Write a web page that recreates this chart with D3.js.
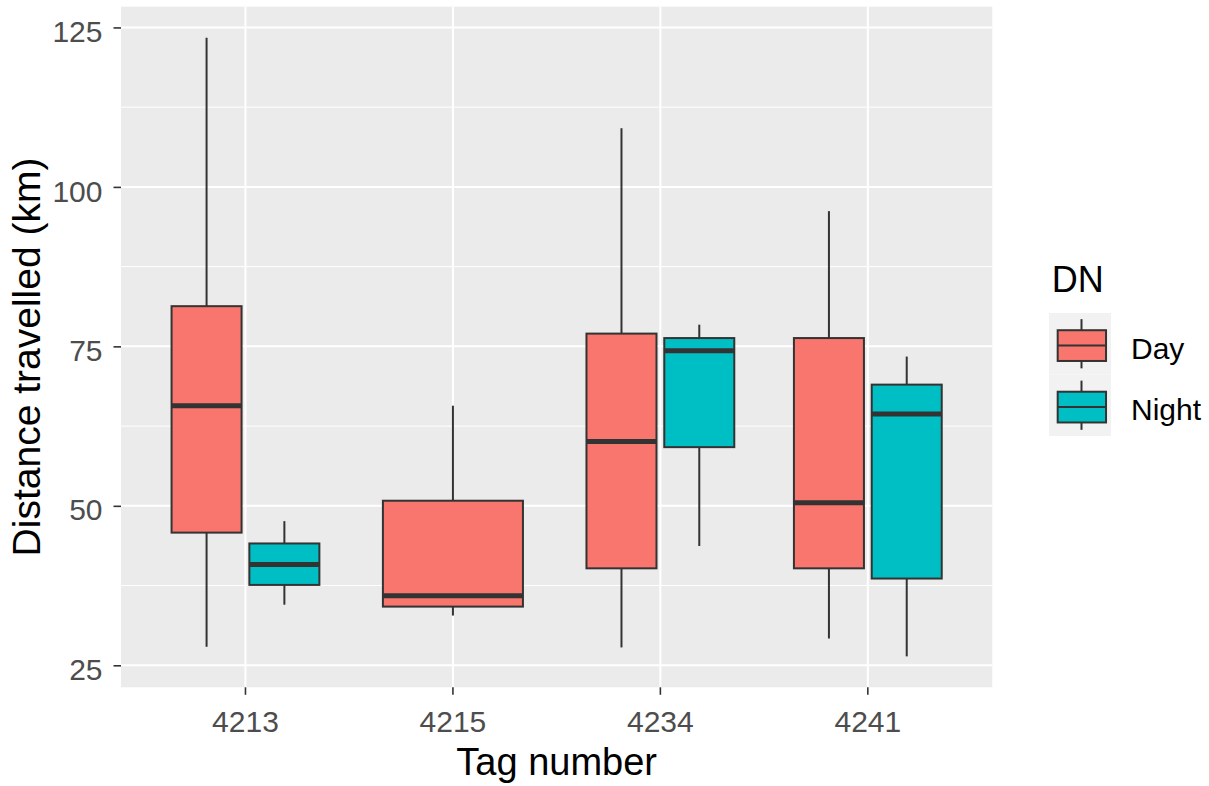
<!DOCTYPE html>
<html>
<head>
<meta charset="utf-8">
<script src="https://cdn.jsdelivr.net/npm/d3@7"></script>
<style>
  html, body { margin: 0; padding: 0; background: #fff; }
  svg { display: block; font-family: "Liberation Sans", Arial, sans-serif; }
</style>
</head>
<body>
<div id="chart"></div>
<script>
(function () {
  "use strict";

  // Data: [lower whisker, Q1, median, Q3, upper whisker]
  const tags = ["4213", "4215", "4234", "4241"];
  const groups = ["Day", "Night"];
  const dayStats = [
    [27.9, 45.8, 65.7, 81.3, 123.4],
    [32.8, 34.2, 35.9, 50.8, 65.7],
    [27.8, 40.2, 60.1, 77.0, 109.2],
    [29.2, 40.2, 50.5, 76.3, 96.2]
  ];
  const nightStats = [
    [34.5, 37.6, 40.8, 44.1, 47.6],
    null,
    [43.7, 59.2, 74.3, 76.3, 78.4],
    [26.4, 38.6, 64.4, 69.0, 73.4]
  ];
  const yTicks = [25, 50, 75, 100, 125];
  const yMinor = [37.5, 62.5, 87.5, 112.5];
  const fills = { Day: "#F8766D", Night: "#00BFC4" };

  const W = 1209, H = 786;
  const panel = { left: 121, right: 992.3, top: 6.7, bottom: 687.3 };

  const svg = d3.select("#chart").append("svg")
    .attr("width", W)
    .attr("height", H);

  // build rows
  const rows = [];
  tags.forEach((t, i) => {
    if (dayStats[i]) rows.push({ tag: t, group: "Day", s: dayStats[i] });
    if (nightStats[i]) rows.push({ tag: t, group: "Night", s: nightStats[i] });
  });

  const allVals = rows.flatMap(r => r.s);
  const lo = d3.min(allVals), hi = d3.max(allVals);
  const pad = (hi - lo) * 0.05;

  const y = d3.scaleLinear()
    .domain([lo - pad, hi + pad])
    .range([panel.bottom, panel.top]);

  const x = d3.scaleBand()
    .domain(tags)
    .range([panel.left, panel.right])
    .paddingInner(0)
    .paddingOuter(0.1);

  // panel background
  svg.append("rect")
    .attr("x", panel.left)
    .attr("y", panel.top)
    .attr("width", panel.right - panel.left)
    .attr("height", panel.bottom - panel.top)
    .attr("fill", "#EBEBEB");

  const grid = svg.append("g").attr("class", "grid");
  grid.selectAll("line.minor")
    .data(yMinor)
    .enter().append("line")
    .attr("class", "minor")
    .attr("x1", panel.left).attr("x2", panel.right)
    .attr("y1", d => y(d)).attr("y2", d => y(d))
    .attr("stroke", "#fff").attr("stroke-width", 1);
  grid.selectAll("line.major")
    .data(yTicks)
    .enter().append("line")
    .attr("class", "major")
    .attr("x1", panel.left).attr("x2", panel.right)
    .attr("y1", d => y(d)).attr("y2", d => y(d))
    .attr("stroke", "#fff").attr("stroke-width", 2);
  grid.selectAll("line.vmajor")
    .data(tags)
    .enter().append("line")
    .attr("class", "vmajor")
    .attr("x1", d => x(d) + x.bandwidth() / 2).attr("x2", d => x(d) + x.bandwidth() / 2)
    .attr("y1", panel.top).attr("y2", panel.bottom)
    .attr("stroke", "#fff").attr("stroke-width", 2);

  // dodge positions (ggplot dodge2, width 0.75, padding 0.1)
  function innerScale(tag) {
    const present = rows.filter(r => r.tag === tag).map(r => r.group);
    const c = x(tag) + x.bandwidth() / 2;
    const half = x.bandwidth() * 0.375;
    return d3.scaleBand()
      .domain(present)
      .range([c - half, c + half])
      .paddingInner(0.1)
      .paddingOuter(0.05);
  }

  const boxes = svg.append("g").attr("class", "boxes")
    .selectAll("g")
    .data(rows)
    .enter().append("g");

  boxes.each(function (d) {
    const g = d3.select(this);
    const xs = innerScale(d.tag);
    const x0 = xs(d.group), bw = xs.bandwidth(), cx = x0 + bw / 2;
    const [wl, q1, med, q3, wh] = d.s;

    g.append("line")
      .attr("x1", cx).attr("x2", cx)
      .attr("y1", y(q3)).attr("y2", y(wh))
      .attr("stroke", "#333").attr("stroke-width", 2);
    g.append("line")
      .attr("x1", cx).attr("x2", cx)
      .attr("y1", y(q1)).attr("y2", y(wl))
      .attr("stroke", "#333").attr("stroke-width", 2);
    g.append("rect")
      .attr("x", x0).attr("width", bw)
      .attr("y", y(q3)).attr("height", y(q1) - y(q3))
      .attr("fill", fills[d.group])
      .attr("stroke", "#333").attr("stroke-width", 2);
    g.append("line")
      .attr("x1", x0).attr("x2", x0 + bw)
      .attr("y1", y(med)).attr("y2", y(med))
      .attr("stroke", "#333").attr("stroke-width", 5);
  });

  // axes
  const yAxis = svg.append("g")
    .attr("transform", `translate(${panel.left},0)`)
    .call(d3.axisLeft(y).tickValues(yTicks).tickSize(7.5).tickPadding(11));
  yAxis.select(".domain").remove();
  yAxis.selectAll(".tick line").attr("stroke", "#333").attr("stroke-width", 1.6);
  yAxis.selectAll(".tick text")
    .attr("dy", "0.47em")
    .attr("fill", "#4D4D4D")
    .style("font-size", "30px")
    .style("font-family", "Liberation Sans, Arial, sans-serif");

  const xAxis = svg.append("g")
    .attr("transform", `translate(0,${panel.bottom})`)
    .call(d3.axisBottom(x).tickSize(7.5));
  xAxis.select(".domain").remove();
  xAxis.selectAll(".tick line").attr("stroke", "#333").attr("stroke-width", 1.6);
  xAxis.selectAll(".tick text")
    .attr("y", 44.7)
    .attr("dy", 0)
    .attr("fill", "#4D4D4D")
    .style("font-size", "30px")
    .style("font-family", "Liberation Sans, Arial, sans-serif");

  // axis titles
  svg.append("text")
    .attr("x", (panel.left + panel.right) / 2)
    .attr("y", 775)
    .attr("text-anchor", "middle")
    .style("font-size", "38px")
    .attr("fill", "#000")
    .text("Tag number");

  svg.append("text")
    .attr("transform", "translate(40,357) rotate(-90)")
    .attr("text-anchor", "middle")
    .style("font-size", "39px")
    .attr("fill", "#000")
    .text("Distance travelled (km)");

  // legend
  const legend = svg.append("g").attr("class", "legend");
  legend.append("text")
    .attr("x", 1051.7).attr("y", 291.7)
    .style("font-size", "36px")
    .attr("fill", "#000")
    .text("DN");

  const keyX = 1049, keyW = 62, keyH = 61.5, keyY0 = 313;
  groups.forEach((gname, i) => {
    const ky = keyY0 + i * keyH;
    const g = legend.append("g");
    g.append("rect")
      .attr("x", keyX).attr("y", ky)
      .attr("width", keyW).attr("height", keyH)
      .attr("fill", "#F2F2F2");
    const cx = keyX + keyW / 2 + 1.5;
    g.append("line")
      .attr("x1", cx).attr("x2", cx)
      .attr("y1", ky + keyH * 0.1).attr("y2", ky + keyH * 0.9)
      .attr("stroke", "#333").attr("stroke-width", 2);
    g.append("rect")
      .attr("x", keyX + keyW * 0.14).attr("y", ky + keyH * 0.28)
      .attr("width", keyW * 0.78).attr("height", keyH * 0.5)
      .attr("fill", fills[gname])
      .attr("stroke", "#333").attr("stroke-width", 2);
    g.append("line")
      .attr("x1", keyX + keyW * 0.14).attr("x2", keyX + keyW * 0.92)
      .attr("y1", ky + keyH * 0.53).attr("y2", ky + keyH * 0.53)
      .attr("stroke", "#333").attr("stroke-width", 2);
    g.append("text")
      .attr("x", 1131)
      .attr("y", ky + keyH * 0.53 + 13)
      .style("font-size", "30px")
      .attr("fill", "#000")
      .text(gname);
  });
})();
</script>
</body>
</html>
